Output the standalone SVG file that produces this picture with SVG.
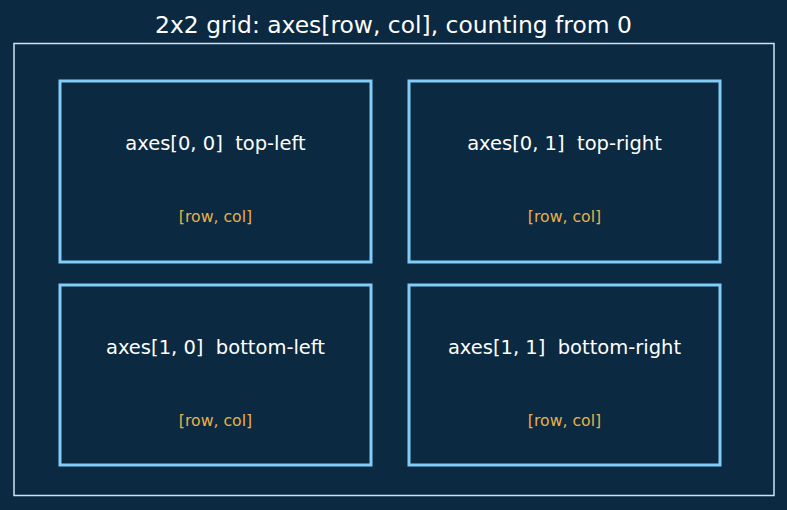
<svg xmlns="http://www.w3.org/2000/svg" width="787" height="510" viewBox="0 0 787 510">
<style>
.bg{fill:#0b2940}
.frame{fill:none;stroke:#cde4f2;stroke-width:1.5}
.box{fill:#0b2940;stroke:#82cdf8;stroke-width:3}
text{white-space:pre}
.title{font-family:"DejaVu Sans",sans-serif;font-size:23.4px;fill:#ffffff;text-anchor:middle}
.lbl{font-family:"DejaVu Sans",sans-serif;font-size:19.5px;fill:#ffffff;text-anchor:middle}
.sub{font-family:"DejaVu Sans",sans-serif;font-size:15.7px;fill:#e8b04a;text-anchor:middle}
</style>
<rect class="bg" x="0" y="0" width="787" height="510"/>
<text class="title" x="393.5" y="32.5">2x2 grid: axes[row, col], counting from 0</text>
<rect class="frame" x="14" y="43.5" width="760" height="452"/>
<g id="ax00">
<rect class="box" x="60" y="81" width="311" height="181"/>
<text class="lbl" x="215.5" y="150" xml:space="preserve">axes[0, 0]  top-left</text>
<text class="sub" x="215.5" y="221.5">[row, col]</text>
</g>
<g id="ax01">
<rect class="box" x="409" y="81" width="311" height="181"/>
<text class="lbl" x="564.5" y="150" xml:space="preserve">axes[0, 1]  top-right</text>
<text class="sub" x="564.5" y="221.5">[row, col]</text>
</g>
<g id="ax10">
<rect class="box" x="60" y="285" width="311" height="180"/>
<text class="lbl" x="215.5" y="354" xml:space="preserve">axes[1, 0]  bottom-left</text>
<text class="sub" x="215.5" y="425.5">[row, col]</text>
</g>
<g id="ax11">
<rect class="box" x="409" y="285" width="311" height="180"/>
<text class="lbl" x="564.5" y="354" xml:space="preserve">axes[1, 1]  bottom-right</text>
<text class="sub" x="564.5" y="425.5">[row, col]</text>
</g>
<g id="connectors"></g>
</svg>
